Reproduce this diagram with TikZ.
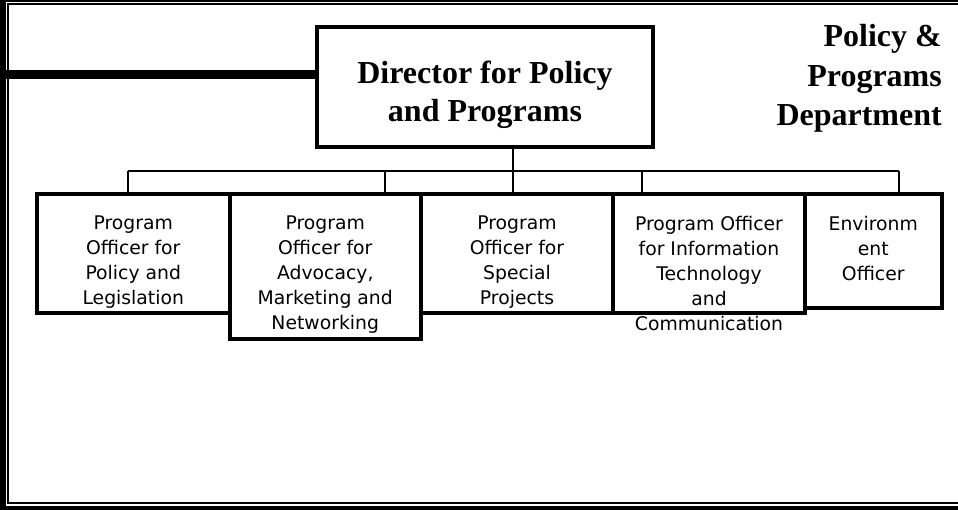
\documentclass[tikz,border=0pt]{standalone}
\usepackage{fontspec}
\setmainfont{Liberation Serif}
\newfontfamily\boxfont{DejaVu Sans}
\begin{document}
\begin{tikzpicture}[x=1pt,y=-1pt,
  boxst/.style={draw, line width=4pt, rectangle, inner sep=0pt},
  smalltext/.style={font=\boxfont\fontsize{18.8}{25}\selectfont, align=center, anchor=north, inner sep=0pt},
  bigtext/.style={font=\bfseries\fontsize{32}{37.5}\selectfont, inner sep=0pt},
  titletext/.style={font=\bfseries\fontsize{32}{39.5}\selectfont, inner sep=0pt},
  bus/.style={line width=2pt},
  frameline/.style={line width=2pt}]
\useasboundingbox (0,0) rectangle (958,510);
% frame
\fill (0,0) rectangle (6,510);
\draw[frameline] (0,1) -- (958,1);
\draw[frameline] (958,4.5) -| (8,503) -- (958,503);
\fill (0,506) rectangle (958,510);
% director
\node[boxst, minimum width=336pt, minimum height=120pt] (dir) at (485,87) {};
\node[bigtext, anchor=north, align=center] (dirt) at (485,61) {Director for Policy\\and Programs};
% title
\node[titletext, anchor=north east, align=right] (title) at (942,24.3) {Policy \&\\Programs\\Department};
% boxes
\node[boxst, minimum width=192.5pt, minimum height=118.5pt] (b1) at (133.25,253.75) {};
\node[boxst, minimum width=192pt, minimum height=118.5pt] (b3) at (517,253.75) {};
\node[boxst, minimum width=192pt, minimum height=119pt] (b4) at (709,254) {};
\node[boxst, minimum width=136.5pt, minimum height=113.5pt] (b5) at (873.25,251.25) {};
\node[boxst, minimum width=191.5pt, minimum height=144.5pt] (b2) at (325.25,266.75) {};
% connectors
\coordinate (lstart) at (0,74.5);
\draw[line width=9pt] (lstart) -- (lstart -| dir.west);
\coordinate (d1) at (127.7,171);
\coordinate (d2) at (385,171);
\coordinate (d3) at (513.3,171);
\coordinate (d4) at (641.7,171);
\coordinate (d5) at (899,171);
\draw[bus] (d1) -- (d5);
\draw[bus] (d1) -- (d1 |- b1.north);
\draw[bus] (d2) -- (d2 |- b2.north);
\draw[bus] (d3 |- dir.south) -- (d3 |- b3.north);
\draw[bus] (d4) -- (d4 |- b4.north);
\draw[bus] (d5) -- (d5 |- b5.north);
% texts
\node[smalltext] (t1) at (133.25,215.8) {Program\\Officer for\\Policy and\\Legislation};
\node[smalltext] (t2) at (325.25,215.8) {Program\\Officer for\\Advocacy,\\Marketing and\\Networking};
\node[smalltext] (t3) at (517,215.8) {Program\\Officer for\\Special\\Projects};
\node[smalltext] (t4) at (709,215.8) {Program Officer\\for Information\\Technology\\and\\Communication};
\node[smalltext] (t5) at (873.25,215.8) {Environm\\ent\\Officer};
\end{tikzpicture}
\end{document}
